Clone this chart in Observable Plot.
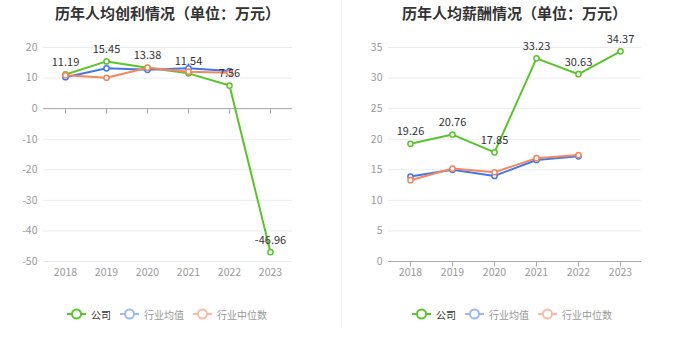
<!DOCTYPE html>
<html>
<head>
<meta charset="utf-8">
<script src="https://cdn.jsdelivr.net/npm/d3@7"></script>
<script src="https://cdn.jsdelivr.net/npm/@observablehq/plot@0.6"></script>
<style>
  html, body { margin: 0; padding: 0; background: #fff; }
  body { width: 680px; height: 349px; position: relative; overflow: hidden; font-family: "Noto Sans CJK SC", "Noto Sans", sans-serif; }
  .panel { position: absolute; top: 0; width: 340px; height: 349px; }
  .title { position: absolute; top: 0; height: 26px; line-height: 26px; font-size: 15px; font-weight: bold; color: #333; text-align: center; white-space: nowrap; }
  .chart { position: absolute; top: 30px; left: 0; }
  .legend { position: absolute; top: 306px; height: 16px; display: flex; align-items: center; font-size: 10px; white-space: nowrap; }
  .item { display: flex; align-items: center; margin-right: 9px; }
  .item svg { margin-right: 5px; }
  .divider { position: absolute; left: 341px; top: 0; width: 1px; height: 325px; background: #f0f0f0; }
</style>
</head>
<body>
<div class="divider"></div>
<script>
const years = ["2018", "2019", "2020", "2021", "2022", "2023"];
const seriesNames = ["公司", "行业均值", "行业中位数"];
const colors = ["#5ac42a", "#3f78ec", "#f5865d"];
const legendColors = ["#5ac42a", "#9db8f5", "#f9bba4"];
const legendText = ["#333", "#999", "#999"];

// 历年人均创利
const profitTitle = "历年人均创利情况（单位：万元）";
const profitCompany = [11.19, 15.45, 13.38, 11.54, 7.56, -46.96];
const profitAvg = [10.3, 13.2, 12.7, 13.2, 12.3];
const profitMedian = [10.9, 10.1, 13.4, 12.1, 11.7];
const profitTicks = [-50, -40, -30, -20, -10, 0, 10, 20];

// 历年人均薪酬
const salaryTitle = "历年人均薪酬情况（单位：万元）";
const salaryCompany = [19.26, 20.76, 17.85, 33.23, 30.63, 34.37];
const salaryAvg = [13.9, 15.0, 14.0, 16.6, 17.2];
const salaryMedian = [13.3, 15.2, 14.6, 16.9, 17.4];
const salaryTicks = [0, 5, 10, 15, 20, 25, 30, 35];

function toRows(vals, s) { return vals.map((v, i) => ({year: years[i], value: v, series: s})); }

const tickSymbol = { draw(ctx) { ctx.moveTo(0, 0); ctx.lineTo(0, 5); } };

function makePanel(left, title, company, avg, median, ticks, mLeft, mRight) {
  const panel = document.createElement("div");
  panel.className = "panel";
  panel.style.left = left + "px";
  const plotLeft = mLeft, plotRight = 340 - mRight;
  const t = document.createElement("div");
  t.className = "title";
  t.style.left = (plotLeft - 40) + "px";
  t.style.width = (plotRight - plotLeft + 80) + "px";
  t.textContent = title;
  panel.appendChild(t);

  const rows = [toRows(company, 0), toRows(avg, 1), toRows(median, 2)];
  const marks = [
    Plot.ruleY(ticks, {stroke: "#e9ecf3", strokeWidth: 1}),
    Plot.axisY({ticks, tickSize: 0, tickPadding: 6, fontSize: 10.5, color: "#999", label: null, tickFormat: d => String(d)}),
    Plot.axisX({tickSize: 0, tickPadding: 7, fontSize: 10.5, color: "#999", label: null}),
    Plot.ruleY([0], {stroke: "#a8a8a8", strokeWidth: 1}),
    Plot.dot(years, {x: d => d, y: () => 0, symbol: tickSymbol, stroke: "#a8a8a8", strokeWidth: 1, fill: "none"})
  ];
  rows.forEach((r, i) => {
    marks.push(Plot.line(r, {x: "year", y: "value", stroke: colors[i], strokeWidth: 2}));
  });
  rows.forEach((r, i) => {
    marks.push(Plot.dot(r, {x: "year", y: "value", r: 2.6, stroke: colors[i], strokeWidth: 1.5, fill: "#fff"}));
  });
  marks.push(Plot.text(rows[0], {x: "year", y: "value", text: d => d.value.toFixed(2), dy: -12, fontSize: 11, fill: "#333"}));

  const chart = Plot.plot({
    width: 340, height: 262,
    marginTop: 17, marginBottom: 31, marginLeft: mLeft, marginRight: mRight,
    style: {fontFamily: "'Noto Sans CJK SC', 'Noto Sans', sans-serif", background: "transparent"},
    x: {type: "point", domain: years, padding: 0.5},
    y: {domain: [ticks[0], ticks[ticks.length - 1]]},
    marks
  });
  chart.classList.add("chart");
  panel.appendChild(chart);

  const legend = document.createElement("div");
  legend.className = "legend";
  legend.style.left = (plotLeft + 24) + "px";
  seriesNames.forEach((name, i) => {
    const item = document.createElement("div");
    item.className = "item";
    item.innerHTML = `<svg width="19" height="14"><line x1="0" y1="7" x2="19" y2="7" stroke="${legendColors[i]}" stroke-width="2"/><circle cx="9.5" cy="7" r="4.5" fill="#fff" stroke="${legendColors[i]}" stroke-width="2"/></svg><span style="color:${legendText[i]}">${name}</span>`;
    legend.appendChild(item);
  });
  panel.appendChild(legend);
  document.body.appendChild(panel);
}

makePanel(0, profitTitle, profitCompany, profitAvg, profitMedian, profitTicks, 43, 48);
makePanel(340, salaryTitle, salaryCompany, salaryAvg, salaryMedian, salaryTicks, 48, 39);
</script>
</body>
</html>
